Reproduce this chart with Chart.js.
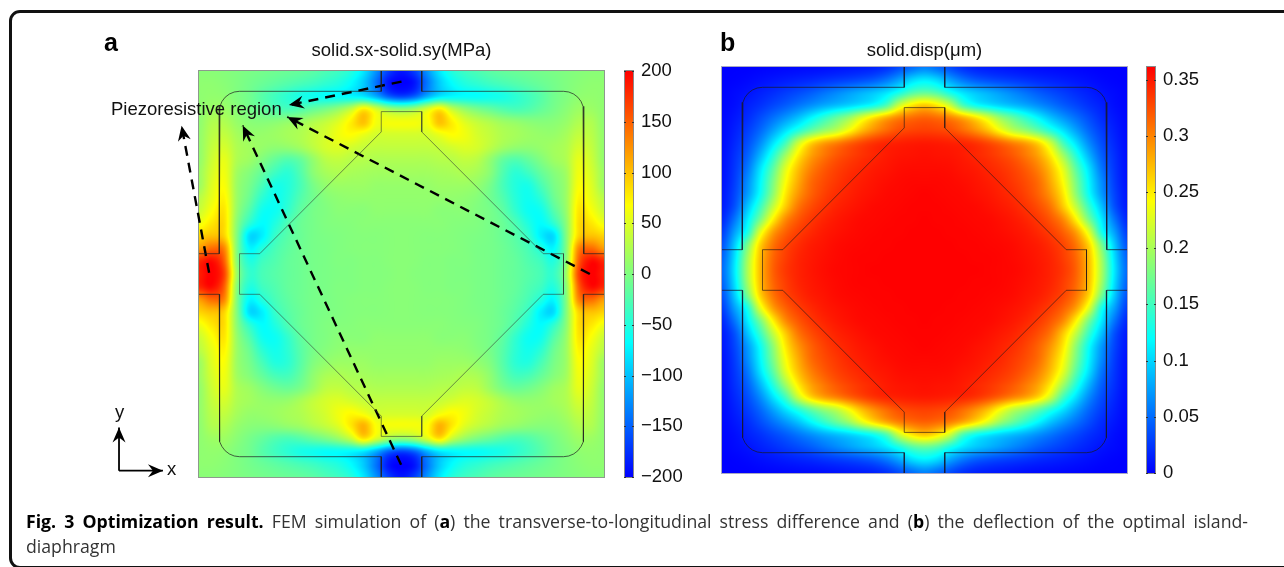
<!DOCTYPE html>
<html>
<head>
<meta charset="utf-8">
<script src="https://cdn.jsdelivr.net/npm/chart.js@4/dist/chart.umd.min.js"></script>
<style>
  html, body { margin: 0; padding: 0; background: #fff; width: 1284px; height: 567px; overflow: hidden; }
  canvas { position: absolute; top: 0; }
  .frame { position: absolute; left: 9px; top: 10px; width: 1290px; height: 553px; border: 3px solid #111; border-radius: 11px; }
  .lab { position: absolute; font-family: "Liberation Sans", sans-serif; font-size: 18.5px; line-height: 22px; color: #111; white-space: nowrap; z-index: 5; }
  .panel { font-size: 25px; font-weight: bold; line-height: 30px; color: #000; }
  .cap { position: absolute; left: 26px; width: 1222px; font-family: "Open Sans", sans-serif; font-size: 17.7px; line-height: 25px; color: #333; z-index: 5; }
  .cap b { color: #000; }
</style>
</head>
<body>
<div class="frame"></div>
<canvas id="chartA" width="620" height="567" style="left:0"></canvas>
<canvas id="barA" width="70" height="430" style="left:624px;top:59px"></canvas>
<canvas id="chartB" width="440" height="567" style="left:700px"></canvas>
<canvas id="barB" width="70" height="430" style="left:1146px;top:55px"></canvas>
<div class="lab panel" style="left:104px;top:27px">a</div>
<div class="lab panel" style="left:720px;top:27px">b</div>
<div class="lab" style="left:111px;top:98px">Piezoresistive region</div>
<div class="lab" style="left:115px;top:401px">y</div>
<div class="lab" style="left:167px;top:458px">x</div>
<div class="cap" style="top:509px;white-space:normal;text-align:justify;text-align-last:justify"><b>Fig. 3 Optimization result.</b> FEM simulation of (<b>a</b>) the transverse-to-longitudinal stress difference and (<b>b</b>) the deflection of the optimal island-</div>
<div class="cap" style="top:534px">diaphragm</div>
<script>
// grid node positions, percent of the plate width
const nodes = [0,3.125,6.25,9.375,12.5,15.625,18.75,21.875,25,28.125,31.25,34.375,37.5,40.625,43.75,46.875,50,53.125,56.25,59.375,62.5,65.625,68.75,71.875,75,78.125,81.25,84.375,87.5,90.625,93.75,96.875,100];

// solid.sx-solid.sy in MPa, rows run from the top edge down
const stressRows = [
[5,5,3,0,-3,-6,-9,-12,-15,-20,-28,-36,-50,-80,-125,-170,-190,-170,-125,-80,-50,-36,-28,-20,-15,-12,-9,-6,-3,0,3,5,5],
[8,8,5,0,-6,-12,-18,-24,-30,-36,-44,-52,-68,-95,-140,-190,-200,-190,-140,-95,-68,-52,-44,-36,-30,-24,-18,-12,-6,0,5,8,8],
[8,10,8,0,-8,-22,-34,-45,-55,-60,-65,-66,-70,-80,-110,-150,-165,-150,-110,-80,-70,-66,-65,-60,-55,-45,-34,-22,-8,0,8,10,8],
[8,15,15,5,-5,-15,-25,-30,-25,-15,-5,10,35,75,45,15,5,15,45,75,35,10,-5,-15,-25,-30,-25,-15,-5,5,15,15,8],
[8,25,25,12,5,3,5,10,15,25,35,50,75,100,62,62,62,62,62,100,75,50,35,25,15,10,5,3,5,12,25,25,8],
[10,30,35,20,12,12,15,20,25,35,45,60,68,58,45,45,45,45,45,58,68,60,45,35,25,20,15,12,12,20,35,30,10],
[10,35,45,25,18,12,8,10,18,32,45,50,45,38,35,35,35,35,35,38,45,50,45,32,18,10,8,12,18,25,45,35,10],
[10,40,55,25,15,0,-15,-25,-15,10,30,35,30,28,25,25,25,25,25,28,30,35,30,10,-15,-25,-15,0,15,25,55,40,10],
[15,45,60,18,2,-15,-35,-45,-25,5,20,25,22,20,18,18,18,18,18,20,22,25,20,5,-25,-45,-35,-15,2,18,60,45,15],
[15,50,65,15,-5,-30,-55,-50,-30,-5,10,15,15,15,12,12,12,12,12,15,15,15,10,-5,-30,-50,-55,-30,-5,15,65,50,15],
[30,55,72,15,-12,-45,-60,-48,-25,-8,3,8,10,10,10,10,10,10,10,10,10,8,3,-8,-25,-48,-60,-45,-12,15,72,55,30],
[40,65,80,12,-25,-60,-62,-42,-18,-5,0,5,5,5,8,8,8,8,8,5,5,5,0,-5,-18,-42,-62,-60,-25,12,80,65,40],
[60,80,85,5,-45,-68,-52,-28,-12,-5,0,2,3,5,5,5,5,5,5,5,3,2,0,-5,-12,-28,-52,-68,-45,5,85,80,60],
[90,100,90,0,-85,-75,-40,-22,-12,-5,-2,0,2,3,3,4,5,4,3,3,2,0,-2,-5,-12,-22,-40,-75,-85,0,90,100,90],
[120,145,130,0,-70,-50,-30,-18,-10,-5,-3,0,2,3,3,4,5,4,3,3,2,0,-3,-5,-10,-18,-30,-50,-70,0,130,145,120],
[180,195,150,5,-50,-35,-25,-15,-10,-5,-3,0,0,2,2,4,5,4,2,2,0,0,-3,-5,-10,-15,-25,-35,-50,5,150,195,180],
[185,200,165,15,-40,-30,-22,-15,-10,-5,-3,-1,0,2,2,3,5,3,2,2,0,-1,-3,-5,-10,-15,-22,-30,-40,15,165,200,185],
[180,195,150,5,-50,-35,-25,-15,-10,-5,-3,0,0,2,2,4,5,4,2,2,0,0,-3,-5,-10,-15,-25,-35,-50,5,150,195,180],
[120,145,130,0,-70,-50,-30,-18,-10,-5,-3,0,2,3,3,4,5,4,3,3,2,0,-3,-5,-10,-18,-30,-50,-70,0,130,145,120],
[90,100,90,0,-85,-75,-40,-22,-12,-5,-2,0,2,3,3,4,5,4,3,3,2,0,-2,-5,-12,-22,-40,-75,-85,0,90,100,90],
[60,80,85,5,-45,-68,-52,-28,-12,-5,0,2,3,5,5,5,5,5,5,5,3,2,0,-5,-12,-28,-52,-68,-45,5,85,80,60],
[40,65,80,12,-25,-60,-62,-42,-18,-5,0,5,5,5,8,8,8,8,8,5,5,5,0,-5,-18,-42,-62,-60,-25,12,80,65,40],
[30,55,72,15,-12,-45,-58,-45,-22,-5,3,8,10,10,10,10,10,10,10,10,10,8,3,-5,-22,-45,-58,-45,-12,15,72,55,30],
[15,50,65,15,-5,-30,-50,-45,-22,0,10,15,15,15,12,12,12,12,12,15,15,15,10,0,-22,-45,-50,-30,-5,15,65,50,15],
[15,45,60,18,2,-15,-30,-32,-15,8,22,25,22,20,18,18,18,18,18,20,22,25,22,8,-15,-32,-30,-15,2,18,60,45,15],
[10,40,55,25,15,2,-8,-12,-3,15,32,35,30,28,25,25,25,25,25,28,30,35,32,15,-3,-12,-8,2,15,25,55,40,10],
[10,35,45,25,18,12,10,12,22,35,45,50,45,38,35,35,35,35,35,38,45,50,45,35,22,12,10,12,18,25,45,35,10],
[10,30,35,20,12,12,15,20,25,35,45,60,70,62,45,45,45,45,45,62,70,60,45,35,25,20,15,12,12,20,35,30,10],
[8,25,25,12,5,3,5,10,15,25,35,50,78,108,66,62,62,62,66,108,78,50,35,25,15,10,5,3,5,12,25,25,8],
[8,15,15,5,-5,-15,-25,-30,-25,-15,-5,10,35,78,45,15,5,15,45,78,35,10,-5,-15,-25,-30,-25,-15,-5,5,15,15,8],
[8,10,8,0,-8,-22,-34,-45,-55,-60,-65,-66,-70,-80,-110,-150,-165,-150,-110,-80,-70,-66,-65,-60,-55,-45,-34,-22,-8,0,8,10,8],
[8,8,5,0,-6,-12,-18,-24,-30,-36,-44,-52,-68,-95,-140,-190,-200,-190,-140,-95,-68,-52,-44,-36,-30,-24,-18,-12,-6,0,5,8,8],
[5,5,3,0,-3,-6,-9,-12,-15,-20,-28,-36,-50,-80,-125,-170,-190,-170,-125,-80,-50,-36,-28,-20,-15,-12,-9,-6,-3,0,3,5,5]
];

// solid.disp in nm, same node layout
const dispRows = [
[0,0,0,1,2,3,4,5,6,8,10,12,15,22,35,50,60,50,35,22,15,12,10,8,6,5,4,3,2,1,0,0,0],
[0,1,3,6,9,12,15,18,22,26,30,35,42,55,75,100,110,100,75,55,42,35,30,26,22,18,15,12,9,6,3,1,0],
[1,4,8,14,20,27,34,42,52,62,72,82,92,106,128,155,165,155,128,106,92,82,72,62,52,42,34,27,20,14,8,4,1],
[2,6,14,22,32,42,54,66,78,88,98,110,125,155,215,250,265,250,215,155,125,110,98,88,78,66,54,42,32,22,14,6,2],
[3,10,20,35,52,70,90,115,140,165,190,225,255,280,300,310,315,310,300,280,255,225,190,165,140,115,90,70,52,35,20,10,3],
[4,14,28,48,75,105,135,165,190,210,240,272,295,312,325,330,332,330,325,312,295,272,240,210,190,165,135,105,75,48,28,14,4],
[5,18,36,65,105,150,215,260,285,300,315,328,338,344,347,349,350,349,347,344,338,328,315,300,285,260,215,150,105,65,36,18,5],
[6,22,45,85,135,195,250,285,305,320,330,338,344,349,352,353,354,353,352,349,344,338,330,320,305,285,250,195,135,85,45,22,6],
[7,25,55,105,160,225,270,300,318,330,338,344,349,352,355,356,356,356,355,352,349,344,338,330,318,300,270,225,160,105,55,25,7],
[8,28,65,115,175,238,280,310,325,335,343,348,352,355,357,358,358,358,357,355,352,348,343,335,325,310,280,238,175,115,65,28,8],
[10,32,72,122,185,250,290,315,330,340,346,351,354,357,358,359,360,359,358,357,354,351,346,340,330,315,290,250,185,122,72,32,10],
[12,38,90,145,210,265,305,325,337,345,350,354,357,358,359,360,360,360,359,358,357,354,350,345,337,325,305,265,210,145,90,38,12],
[18,55,110,175,245,295,320,335,344,350,354,357,358,359,360,360,361,360,360,359,358,357,354,350,344,335,320,295,245,175,110,55,18],
[28,75,130,225,285,315,332,342,349,353,356,358,359,360,360,361,361,361,360,360,359,358,356,353,349,342,332,315,285,225,130,75,28],
[38,95,175,260,305,328,340,348,352,356,358,359,360,360,361,361,361,361,361,360,360,359,358,356,352,348,340,328,305,260,175,95,38],
[46,105,195,270,312,332,344,350,354,357,359,360,360,361,361,361,361,361,361,361,360,360,359,357,354,350,344,332,312,270,195,105,46],
[50,110,200,272,315,335,345,351,355,358,359,360,361,361,361,361,361,361,361,361,361,360,359,358,355,351,345,335,315,272,200,110,50],
[46,105,195,270,312,332,344,350,354,357,359,360,360,361,361,361,361,361,361,361,360,360,359,357,354,350,344,332,312,270,195,105,46],
[38,95,175,260,305,328,340,348,352,356,358,359,360,360,361,361,361,361,361,360,360,359,358,356,352,348,340,328,305,260,175,95,38],
[28,75,130,225,285,315,332,342,349,353,356,358,359,360,360,361,361,361,360,360,359,358,356,353,349,342,332,315,285,225,130,75,28],
[18,55,110,175,245,295,320,335,344,350,354,357,358,359,360,360,361,360,360,359,358,357,354,350,344,335,320,295,245,175,110,55,18],
[12,38,90,145,210,265,305,325,337,345,350,354,357,358,359,360,360,360,359,358,357,354,350,345,337,325,305,265,210,145,90,38,12],
[10,32,72,122,185,250,290,315,330,340,346,351,354,357,358,359,360,359,358,357,354,351,346,340,330,315,290,250,185,122,72,32,10],
[8,28,65,115,175,238,280,310,325,335,343,348,352,355,357,358,358,358,357,355,352,348,343,335,325,310,280,238,175,115,65,28,8],
[7,25,55,105,160,225,270,300,318,330,338,344,349,352,355,356,356,356,355,352,349,344,338,330,318,300,270,225,160,105,55,25,7],
[6,22,45,85,135,195,250,285,305,320,330,338,344,349,352,353,354,353,352,349,344,338,330,320,305,285,250,195,135,85,45,22,6],
[5,18,36,65,105,150,215,260,285,300,315,328,338,344,347,349,350,349,347,344,338,328,315,300,285,260,215,150,105,65,36,18,5],
[4,14,28,48,75,105,135,165,190,210,240,272,295,312,325,330,332,330,325,312,295,272,240,210,190,165,135,105,75,48,28,14,4],
[3,10,20,35,52,70,90,115,140,165,190,225,255,280,300,310,315,310,300,280,255,225,190,165,140,115,90,70,52,35,20,10,3],
[2,6,14,22,32,42,54,66,78,88,98,110,125,155,215,250,265,250,215,155,125,110,98,88,78,66,54,42,32,22,14,6,2],
[1,4,8,14,20,27,34,42,52,62,72,82,92,106,128,155,165,155,128,106,92,82,72,62,52,42,34,27,20,14,8,4,1],
[0,1,3,6,9,12,15,18,22,26,30,35,42,55,75,100,110,100,75,55,42,35,30,26,22,18,15,12,9,6,3,1,0],
[0,0,0,1,2,3,4,5,6,8,10,12,15,22,35,50,60,50,35,22,15,12,10,8,6,5,4,3,2,1,0,0,0]
];

const stressTicks = [200,150,100,50,0,-50,-100,-150,-200];
const dispTicks = [0.35,0.3,0.25,0.2,0.15,0.1,0.05,0];

// device outline, in percent of the plate
const outerTopLeft = [[45,100],[45,95],[10,95],[8.71,94.83],[7.5,94.33],[6.46,93.54],[5.67,92.5],[5.17,91.29],[5,90],[5,55],[0,55]];
const outerTopRight = [[55,100],[55,95],[90,95],[91.29,94.83],[92.5,94.33],[93.54,93.54],[94.33,92.5],[94.83,91.29],[95,90],[95,55],[100,55]];
const outerBottomLeft = [[0,45],[5,45],[5,10],[5.17,8.71],[5.67,7.5],[6.46,6.46],[7.5,5.67],[8.71,5.17],[10,5],[45,5],[45,0]];
const outerBottomRight = [[100,45],[95,45],[95,10],[94.83,8.71],[94.33,7.5],[93.54,6.46],[92.5,5.67],[91.29,5.17],[90,5],[55,5],[55,0]];
const island = [[45,90],[55,90],[55,85],[85,55],[90,55],[90,45],[85,45],[55,15],[55,10],[45,10],[45,15],[15,45],[10,45],[10,55],[15,55],[45,85],[45,90]];

// annotation arrows on panel a, last point is the tip
const arrowTop = [[50,97.4],[22.2,91.6]];
const arrowRight = [[96.5,50],[21.8,88.7]];
const arrowBottom = [[49.9,3],[10.8,86.6]];
const arrowLeft = [[2.5,50.3],[-4.3,86.5]];
const axisY = [[-19.75,1.55],[-19.75,12.2]];
const axisX = [[-19.75,1.55],[-8.9,1.55]];

// blue - cyan - green - yellow - red
const mapStops = [0, 0.33, 0.5, 0.67, 1];
const mapColors = [[0,0,255],[0,255,255],[128,255,128],[255,255,0],[255,0,0]];

function mapColor(t) {
    t = Math.min(1, Math.max(0, t));
    let i = 0;
    while (i < mapStops.length - 2 && t > mapStops[i + 1]) i++;
    const f = (t - mapStops[i]) / (mapStops[i + 1] - mapStops[i]);
    return mapColors[i].map((c, k) => c + (mapColors[i + 1][k] - c) * f);
}

function cubic(a, b, c, d, f) {
    return b + 0.5 * f * (c - a + f * (2 * a - 5 * b + 4 * c - d + f * (3 * (b - c) + d - a)));
}

// smooth lookup between the grid nodes, only for painting the field
function sampleRows(rows, col, row) {
    const last = rows.length - 1;
    const c0 = Math.min(last - 1, Math.floor(col)), r0 = Math.min(last - 1, Math.floor(row));
    const fc = col - c0, fr = row - r0;
    const vals = [];
    for (let r = r0 - 1; r <= r0 + 2; r++) {
        const line = rows[Math.max(0, Math.min(last, r))];
        const at = k => line[Math.max(0, Math.min(last, k))];
        vals.push(cubic(at(c0 - 1), at(c0), at(c0 + 1), at(c0 + 2), fc));
    }
    return cubic(vals[0], vals[1], vals[2], vals[3], fr);
}

const fieldPlugin = {
    id: 'field',
    beforeDatasetsDraw(chart, args, opts) {
        const { ctx, chartArea: area, scales } = chart;
        const w = Math.round(area.right - area.left), h = Math.round(area.bottom - area.top);
        const img = ctx.createImageData(w, h);
        const step = nodes[1] - nodes[0];
        for (let py = 0; py < h; py++) {
            const row = (100 - scales.y.getValueForPixel(area.top + py + 0.5)) / step;
            for (let px = 0; px < w; px++) {
                const col = scales.x.getValueForPixel(area.left + px + 0.5) / step;
                const v = sampleRows(opts.rows, col, row);
                const c = mapColor((v - opts.min) / (opts.max - opts.min));
                const n = (py * w + px) * 4;
                img.data[n] = c[0]; img.data[n + 1] = c[1]; img.data[n + 2] = c[2]; img.data[n + 3] = 255;
            }
        }
        ctx.putImageData(img, Math.round(area.left), Math.round(area.top));
        ctx.strokeStyle = opts.edge;
        ctx.lineWidth = 1;
        ctx.strokeRect(area.left - 0.5, area.top - 0.5, w + 1, h + 1);
    },
    afterDatasetsDraw(chart) {
        const ctx = chart.ctx;
        chart.data.datasets.forEach((ds, i) => {
            if (!ds.arrow) return;
            const pts = chart.getDatasetMeta(i).data;
            const tip = pts[pts.length - 1], from = pts[pts.length - 2];
            const ang = Math.atan2(tip.y - from.y, tip.x - from.x);
            ctx.save();
            ctx.translate(tip.x, tip.y);
            ctx.rotate(ang);
            ctx.fillStyle = '#000';
            ctx.beginPath();
            ctx.moveTo(0, 0);
            ctx.lineTo(-15, 6.5);
            ctx.lineTo(-10, 0);
            ctx.lineTo(-15, -6.5);
            ctx.closePath();
            ctx.fill();
            ctx.restore();
        });
    }
};

const toXY = list => list.map(p => ({ x: p[0], y: p[1] }));
const lineSet = (list, color, width) => ({ data: toXY(list), showLine: true, pointRadius: 0, borderColor: color, borderWidth: width, clip: false });
const outlineSets = (color, thin) => [
    lineSet(outerTopLeft, color, 1), lineSet(outerTopRight, color, 1),
    lineSet(outerBottomLeft, color, 1), lineSet(outerBottomRight, color, 1),
    lineSet(island, thin, 1)
];
const dashed = list => Object.assign(lineSet(list, '#000', 2.4), { borderDash: [10, 7], arrow: true });
const solid = list => Object.assign(lineSet(list, '#000', 1.8), { arrow: true });

function fieldChart(id, title, rows, min, max, edge, pad, titleBottom, sets) {
    return new Chart(document.getElementById(id), {
        type: 'scatter',
        data: { datasets: sets },
        plugins: [fieldPlugin],
        options: {
            responsive: false,
            animation: false,
            layout: { padding: pad },
            scales: {
                x: { display: false, min: 0, max: 100 },
                y: { display: false, min: 0, max: 100 }
            },
            plugins: {
                legend: { display: false },
                tooltip: { enabled: false },
                title: {
                    display: true,
                    text: title,
                    color: '#111',
                    font: { family: 'Liberation Sans', size: 18.5, weight: 'normal', lineHeight: '22px' },
                    padding: { top: 0, bottom: titleBottom }
                },
                field: { rows: rows, min: min, max: max, edge: edge }
            }
        }
    });
}

function colorBar(id, ticks, min, max) {
    return new Chart(document.getElementById(id), {
        type: 'bar',
        data: {
            labels: [''],
            datasets: [{
                data: [[min, max]],
                barPercentage: 1,
                categoryPercentage: 1,
                backgroundColor(c) {
                    const area = c.chart.chartArea;
                    if (!area) return '#fff';
                    const g = c.chart.ctx.createLinearGradient(0, area.bottom, 0, area.top);
                    mapStops.forEach((s, i) => g.addColorStop(s, 'rgb(' + mapColors[i].join(',') + ')'));
                    return g;
                }
            }]
        },
        plugins: [{
            id: 'barMarks',
            afterDatasetsDraw(chart) {
                const { ctx, chartArea: a, scales } = chart;
                ctx.strokeStyle = '#8a8a8a';
                ctx.lineWidth = 1;
                ctx.strokeRect(a.left + 0.5, a.top - 0.5, a.right - a.left - 1, a.bottom - a.top + 1);
                ctx.strokeStyle = '#333';
                ticks.forEach(v => {
                    const y = Math.round(scales.y.getPixelForValue(v)) + 0.5;
                    ctx.beginPath();
                    ctx.moveTo(a.left, y); ctx.lineTo(a.left + 2, y);
                    ctx.moveTo(a.right - 2, y); ctx.lineTo(a.right, y);
                    ctx.stroke();
                });
            }
        }],
        options: {
            responsive: false,
            animation: false,
            layout: { autoPadding: false, padding: { top: 12, bottom: 12, left: 0, right: 0 } },
            scales: {
                x: { display: false },
                y: {
                    position: 'right',
                    min: min,
                    max: max,
                    afterBuildTicks(scale) { scale.ticks = ticks.map(v => ({ value: v })); },
                    afterFit(scale) { scale.width = 60; scale.paddingTop = 0; scale.paddingBottom = 0; },
                    grid: { display: false, drawTicks: false },
                    border: { display: false },
                    ticks: {
                        autoSkip: false,
                        padding: 7,
                        color: '#111',
                        font: { family: 'Liberation Sans', size: 18.5 },
                        callback: v => String(v).replace('-', '\u2212')
                    }
                }
            },
            plugins: { legend: { display: false }, tooltip: { enabled: false } }
        }
    });
}

fieldChart('chartA', 'solid.sx-solid.sy(MPa)', stressRows, -200, 200, '#8d9a8d',
    { left: 199, right: 16, top: 40, bottom: 90 }, 9,
    outlineSets('rgba(35,35,35,0.72)', 'rgba(50,60,50,0.6)').concat([
        dashed(arrowTop), dashed(arrowRight), dashed(arrowBottom), dashed(arrowLeft),
        solid(axisY), solid(axisX)
    ]));
colorBar('barA', stressTicks, -200, 200);

fieldChart('chartB', 'solid.disp(\u03bcm)', dispRows, 0, 361, '#a9a9c4',
    { left: 22, right: 13, top: 40, bottom: 94 }, 5,
    outlineSets('rgba(25,25,45,0.75)', 'rgba(40,25,25,0.65)'));
colorBar('barB', dispTicks, 0, 0.3612);
</script>
</body>
</html>
